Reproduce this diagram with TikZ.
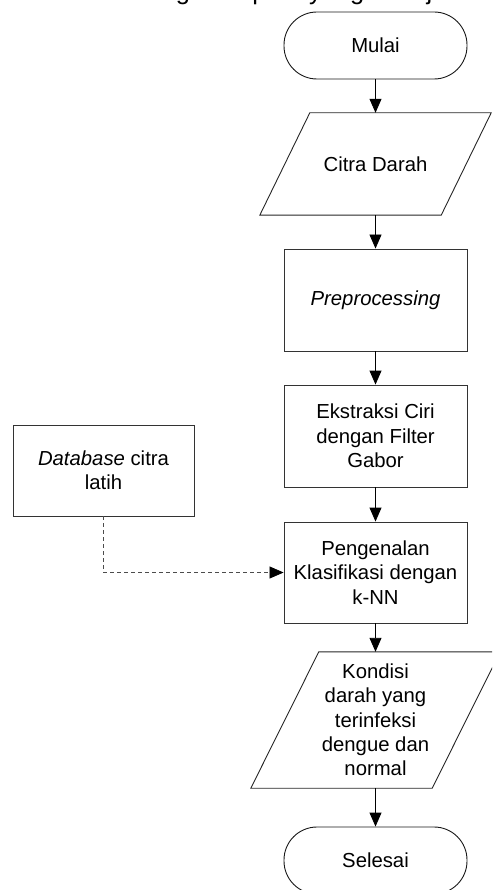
\documentclass[tikz,border=0pt]{standalone}
\usepackage{fontspec}
\setmainfont{Liberation Sans}
\usetikzlibrary{arrows.meta,calc}
\begin{document}
\begin{tikzpicture}[x=1pt,y=-1pt,
  every node/.style={font=\fontsize{20.3pt}{24.3pt}\selectfont, align=center, inner sep=0pt},
  terminal/.style={draw=black!90, line width=0.9pt, rounded corners=33pt, minimum width=183pt, minimum height=67pt},
  procbox/.style={draw=black!80, line width=0.9pt, minimum width=183pt, minimum height=102pt},
  ioshape/.style={draw=black!85, line width=0.9pt},
  flow/.style={line width=0.9pt, -{Triangle[length=14pt,width=12pt]}},
  dashflow/.style={draw=black!70, line width=0.7pt, dash pattern=on 4pt off 3pt, -{Triangle[length=14pt,width=12pt,color=black]}}
]
\useasboundingbox (0,0) rectangle (492,890);
\clip (0,0) rectangle (492,890);

\node[anchor=base west, font=\fontsize{25.5pt}{29pt}\selectfont] (toptext) at (24,0) {terinfeksi dengue seperti yang ditunjukkan};

\node[terminal] (mulai) at (375.5,45.5) {Mulai};

\node[minimum width=231pt, minimum height=102pt] (citra) at (375.5,164) {Citra Darah};
\draw[ioshape] ($(citra.north west)+(50,0)$) -- (citra.north east) -- ($(citra.south east)-(50,0)$) -- (citra.south west) -- cycle;

\node[procbox] (pre) at (375.5,300) {\textit{Preprocessing}};
\node[procbox] (eks) at (375.5,436) {Ekstraksi Ciri\\dengan Filter\\Gabor};
\node[procbox, minimum height=101pt] (peng) at (375.5,572.5) {Pengenalan\\Klasifikasi dengan\\k-NN};
\node[procbox, minimum width=181pt, minimum height=91pt] (db) at (103.5,470.5) {\textit{Database} citra\\latih};

\node[minimum width=249pt, minimum height=136pt] (kond) at (375.5,720) {Kondisi\\darah yang\\terinfeksi\\dengue dan\\normal};
\draw[ioshape] ($(kond.north west)+(68,0)$) -- (kond.north east) -- ($(kond.south east)-(68,0)$) -- (kond.south west) -- cycle;

\node[terminal] (sel) at (375.5,860.5) {Selesai};

\draw[flow] (mulai.south) -- (citra.north);
\draw[flow] (citra.south) -- (pre.north);
\draw[flow] (pre.south) -- (eks.north);
\draw[flow] (eks.south) -- (peng.north);
\draw[flow] (peng.south) -- (kond.north);
\draw[flow] (kond.south) -- (sel.north);
\draw[dashflow] (db.south) |- (peng.west);
\end{tikzpicture}
\end{document}
